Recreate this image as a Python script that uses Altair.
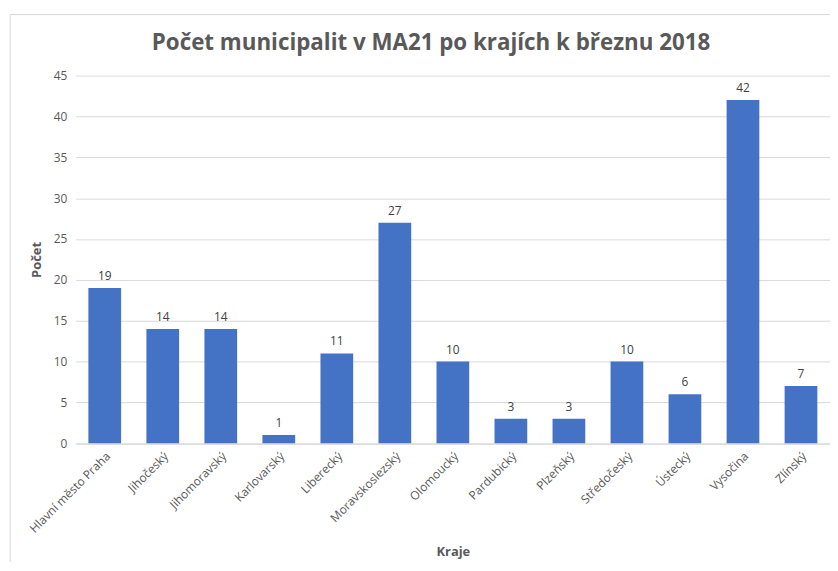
import altair as alt
import pandas as pd

kraje = ["Hlavní město Praha", "Jihočeský", "Jihomoravský", "Karlovarský", "Liberecký",
         "Moravskoslezský", "Olomoucký", "Pardubický", "Plzeňský", "Středočeský",
         "Ústecký", "Vysočina", "Zlínský"]
pocet = [19, 14, 14, 1, 11, 27, 10, 3, 3, 10, 6, 42, 7]

df = pd.DataFrame({"Kraje": kraje, "Počet": pocet})

FONT = "Open Sans"
GREY = "#595959"

x = alt.X("Kraje:N", sort=kraje, title="Kraje",
          scale=alt.Scale(paddingInner=0.436, paddingOuter=0.218),
          axis=alt.Axis(labelAngle=-45, labelFontSize=12, labelColor=GREY,
                        labelFont=FONT, ticks=False, domainColor="#d9d9d9",
                        labelPadding=7, titleFontSize=13, titleFont=FONT,
                        titleColor=GREY, titleFontWeight="bold", titlePadding=11))
y = alt.Y("Počet:Q", title="Počet",
          scale=alt.Scale(domain=[0, 45]),
          axis=alt.Axis(values=list(range(0, 46, 5)), labelFontSize=12, labelColor=GREY,
                        labelFont=FONT, ticks=False, domain=False, gridColor="#d9d9d9",
                        labelPadding=9, titleFontSize=13, titleFont=FONT,
                        titleColor=GREY, titleFontWeight="bold", titlePadding=10))

bars = alt.Chart(df).mark_bar(color="#4472C4").encode(x=x, y=y)
labels = alt.Chart(df).mark_text(dy=-12, fontSize=12, color="#404040", font=FONT).encode(
    x=alt.X("Kraje:N", sort=kraje), y="Počet:Q", text="Počet:Q")

frame = alt.Chart(alt.Data(values=[{"a": 1}])).mark_rect(
    fill=None, stroke="#d9d9d9", strokeWidth=1, clip=False
).encode(x=alt.value(-66), x2=alt.value(900), y=alt.value(-61.5), y2=alt.value(700))

chart = alt.layer(frame, bars, labels).properties(
    width=760, height=370.5,
    title=alt.TitleParams("Počet municipalit v MA21 po krajích k březnu 2018",
                          fontSize=22.5, font=FONT, fontWeight="bold", color=GREY,
                          dx=-22, offset=-41),
    autosize=alt.AutoSizeParams(type="none"),
    padding={"left": 68.25, "top": 66, "right": 0, "bottom": 117},
).configure_view(stroke=None)

chart.save("out.html", embed_options={"renderer": "svg", "actions": False})
